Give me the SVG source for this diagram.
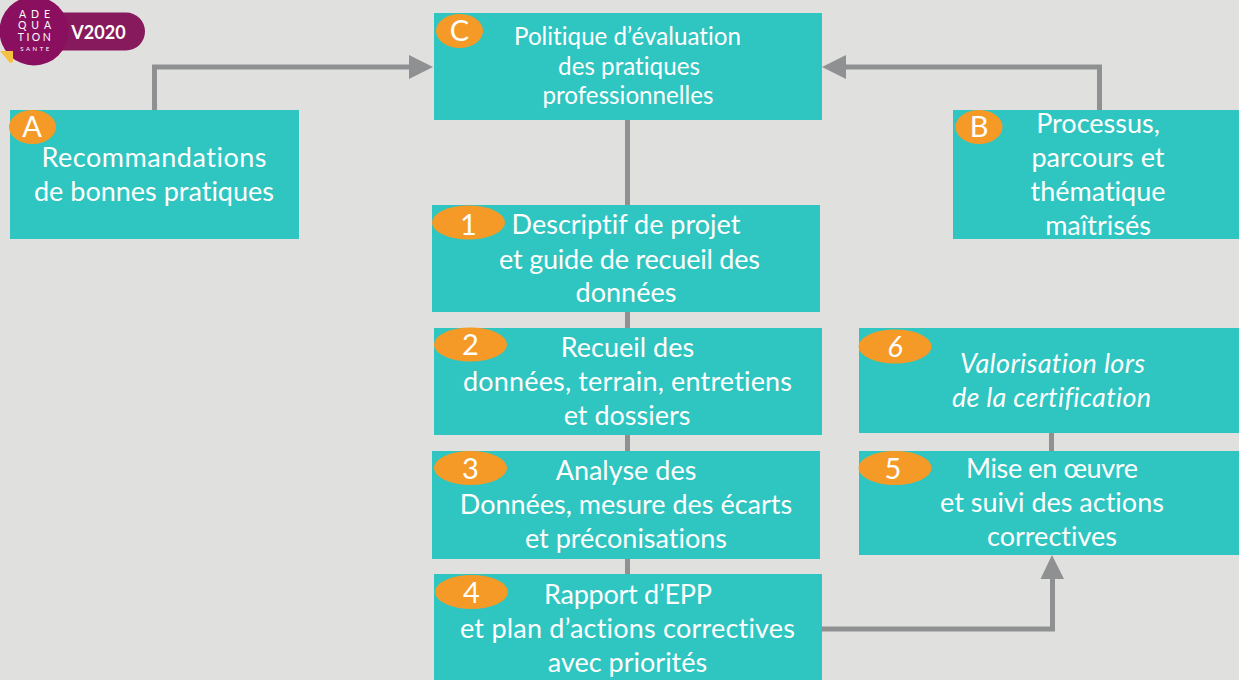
<svg xmlns="http://www.w3.org/2000/svg" width="1239" height="680" viewBox="0 0 1239 680">
<style>
.box{fill:#2fc5c0}
.badge{fill:#f59a27}
.t{font-family:"Lato","Noto Sans",sans-serif;font-size:27px;fill:#fff;text-anchor:middle;font-variant-ligatures:none}
.s{font-size:24.200px}
.i{font-style:italic}
.b{font-family:"Lato","Noto Sans",sans-serif;font-size:29px;fill:#fff;text-anchor:middle}
.c{fill:none;stroke:#8f9092;stroke-width:5}
.a{fill:#8f9092}
.l{font-family:"Lato",sans-serif;fill:#fff;text-anchor:middle}
</style>
<rect width="1239" height="680" fill="#e0e0de"/>
<g id="logo">
<rect x="40" y="12.500" width="105" height="38" rx="19" fill="#871a5c"/>
<circle cx="34" cy="31" r="34.500" fill="#8a0f5e"/>
<path d="M0 51H13V62L10 63Z" fill="#f5c143"/>
<text class="l" x="37" y="17.500" font-size="10.500" letter-spacing="5">ADE</text>
<text class="l" x="37" y="29" font-size="10.500" letter-spacing="5">QUA</text>
<text class="l" x="35.500" y="40.500" font-size="10.500" letter-spacing="2.500">TION</text>
<text class="l" x="36" y="51" font-size="6" letter-spacing="2.500">SANTE</text>
<text class="l" x="98.500" y="38.500" font-size="18" font-weight="700">V2020</text>
</g>
<g id="connectors">
<path class="c" d="M154.500 110V67H412"/>
<path class="a" d="M433 67L409 55V79Z"/>
<path class="c" d="M1099.500 110V67H844"/>
<path class="a" d="M822 67L846 55V79Z"/>
<path class="c" d="M627.500 120V574"/>
<path class="c" d="M1051.500 433V451"/>
<path class="c" d="M822 629H1052.500V578"/>
<path class="a" d="M1052 555L1040.500 579H1064Z"/>
</g>
<g id="node-c"><rect class="box" x="434" y="13" width="388" height="107"/><ellipse class="badge" cx="459.500" cy="31" rx="23.500" ry="17"/><text class="b" x="459.500" y="41">C</text><text class="t s" x="627.500" y="45">Politique d’évaluation</text><text class="t s" x="629" y="75">des pratiques</text><text class="t s" x="628" y="104">professionnelles</text></g>
<g id="node-a"><rect class="box" x="10" y="110" width="289" height="129"/><ellipse class="badge" cx="32.500" cy="127" rx="23.500" ry="17"/><text class="b" x="32" y="137">A</text><text class="t" x="154" y="167" textLength="225">Recommandations</text><text class="t" x="154" y="201">de bonnes pratiques</text></g>
<g id="node-b"><rect class="box" x="953" y="110" width="286" height="129"/><ellipse class="badge" cx="979" cy="127" rx="23.500" ry="17"/><text class="b" x="979" y="137">B</text><text class="t" x="1098" y="133">Processus,</text><text class="t" x="1098" y="167">parcours et</text><text class="t" x="1098" y="201">thématique</text><text class="t" x="1098" y="235">maîtrisés</text></g>
<g id="node-1"><rect class="box" x="432" y="205" width="388" height="107"/><ellipse class="badge" cx="468.500" cy="222.500" rx="36.500" ry="17"/><text class="b" x="468.500" y="235">1</text><text class="t" x="626" y="234">Descriptif de projet</text><text class="t" x="629.500" y="269" textLength="261">et guide de recueil des</text><text class="t" x="626" y="302">données</text></g>
<g id="node-2"><rect class="box" x="434" y="328" width="388" height="107"/><ellipse class="badge" cx="470.500" cy="344.500" rx="36.500" ry="17"/><text class="b" x="470.500" y="355">2</text><text class="t" x="627.500" y="357">Recueil des</text><text class="t" x="627.500" y="391" textLength="329">données, terrain, entretiens</text><text class="t" x="627" y="425">et dossiers</text></g>
<g id="node-3"><rect class="box" x="432" y="451" width="388" height="108"/><ellipse class="badge" cx="470.500" cy="468" rx="36.500" ry="17"/><text class="b" x="470.500" y="479">3</text><text class="t" x="626" y="480">Analyse des</text><text class="t" x="626" y="514">Données, mesure des écarts</text><text class="t" x="626" y="548">et préconisations</text></g>
<g id="node-4"><rect class="box" x="434" y="574" width="388" height="106"/><ellipse class="badge" cx="471.500" cy="592" rx="36.500" ry="17"/><text class="b" x="471.500" y="603">4</text><text class="t" x="628" y="604" textLength="168">Rapport d’EPP</text><text class="t" x="627.500" y="638" textLength="335">et plan d’actions correctives</text><text class="t" x="627.500" y="672">avec priorités</text></g>
<g id="node-6"><rect class="box" x="859" y="328" width="380" height="105"/><ellipse class="badge" cx="895" cy="346.500" rx="36.500" ry="17"/><text class="b i" x="895" y="357">6</text><text class="t i" x="1052.500" y="373" textLength="185">Valorisation lors</text><text class="t i" x="1051.500" y="407" textLength="199">de la certification</text></g>
<g id="node-5"><rect class="box" x="859" y="451" width="380" height="104"/><ellipse class="badge" cx="895" cy="468" rx="36.500" ry="17"/><text class="b" x="893" y="479">5</text><text class="t" x="1052" y="478" textLength="172">Mise en œuvre</text><text class="t" x="1052" y="512">et suivi des actions</text><text class="t" x="1052" y="546">correctives</text></g>
</svg>
